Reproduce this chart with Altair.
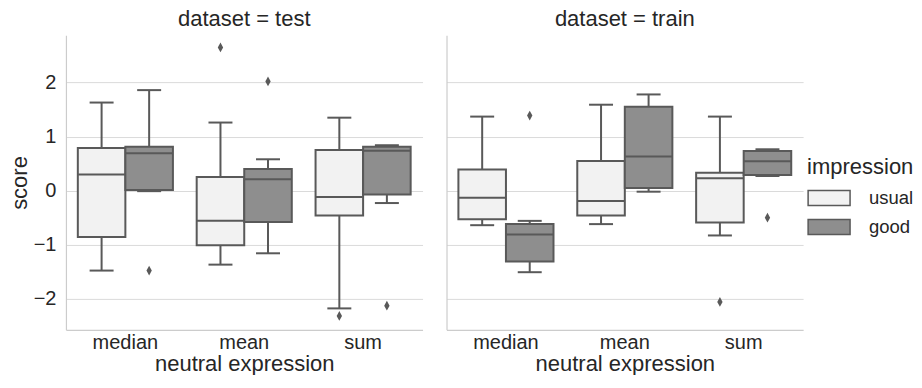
import altair as alt
import pandas as pd

# ---- box statistics ----
datasets = ["test"] * 6 + ["train"] * 6
exprs = ["median", "median", "mean", "mean", "sum", "sum"] * 2
impressions = ["usual", "good"] * 6
whisker_lo = [-1.48, -0.01, -1.37, -1.16, -2.18, -0.23,
              -0.64, -1.51, -0.62, -0.02, -0.83, 0.27]
q1 = [-0.86, 0.01, -1.01, -0.58, -0.46, -0.07,
      -0.53, -1.31, -0.46, 0.05, -0.59, 0.29]
median = [0.30, 0.69, -0.56, 0.21, -0.12, 0.74,
          -0.13, -0.81, -0.19, 0.63, 0.23, 0.545]
q3 = [0.79, 0.81, 0.25, 0.40, 0.75, 0.81,
      0.39, -0.62, 0.55, 1.55, 0.33, 0.735]
whisker_hi = [1.63, 1.86, 1.26, 0.58, 1.35, 0.84,
              1.37, -0.56, 1.59, 1.78, 1.37, 0.765]

# outliers
out_dataset = ["test", "test", "test", "test", "test", "train", "train", "train"]
out_expr = ["median", "mean", "mean", "sum", "sum", "median", "sum", "sum"]
out_imp = ["good", "usual", "good", "usual", "good", "good", "usual", "good"]
out_val = [-1.48, 2.65, 2.02, -2.32, -2.13, 1.39, -2.06, -0.50]

expr_order = ["median", "mean", "sum"]
imp_order = ["usual", "good"]
fill_colors = ["#f2f2f2", "#8e8e8e"]
line_color = "#595959"
text_color = "#262626"
FONT = "Liberation Sans"

stats = pd.DataFrame({
    "dataset": datasets, "expr": exprs, "impression": impressions,
    "lo": whisker_lo, "q1": q1, "med": median, "q3": q3, "hi": whisker_hi,
})
outs = pd.DataFrame({
    "dataset": out_dataset, "expr": out_expr, "impression": out_imp, "val": out_val,
})

Y_DOMAIN = [-2.577, 2.877]
W, H = 357, 295


def panel(name, show_y):
    s = stats[stats.dataset == name]
    o = outs[outs.dataset == name]
    x = alt.X("expr:N", sort=expr_order,
              scale=alt.Scale(paddingInner=0.2, paddingOuter=0.1),
              axis=alt.Axis(title="neutral expression", labelAngle=0, grid=False,
                            ticks=False, labelPadding=3, titlePadding=1))
    xo = alt.XOffset("impression:N", sort=imp_order,
                     scale=alt.Scale(paddingInner=0, paddingOuter=0))
    if show_y:
        yaxis = alt.Axis(title="score", values=[-2, -1, 0, 1, 2], format="d",
                         grid=True, ticks=False, labelPadding=10, titlePadding=2)
    else:
        yaxis = alt.Axis(title=None, values=[-2, -1, 0, 1, 2], grid=True,
                         ticks=False, labels=False)
    yscale = alt.Scale(domain=Y_DOMAIN, nice=False, zero=False)

    base = alt.Chart(s).encode(x=x, xOffset=xo)
    whisk = base.mark_rule(color=line_color, strokeWidth=2, opacity=1).encode(
        y=alt.Y("lo:Q", scale=yscale, axis=yaxis), y2="hi:Q")
    cap_lo = base.mark_tick(color=line_color, size=24, thickness=2, opacity=1).encode(
        y=alt.Y("lo:Q", scale=yscale))
    cap_hi = base.mark_tick(color=line_color, size=24, thickness=2, opacity=1).encode(
        y=alt.Y("hi:Q", scale=yscale))
    box = base.mark_bar(stroke=line_color, strokeWidth=2, opacity=1).encode(
        y=alt.Y("q1:Q", scale=yscale), y2="q3:Q",
        color=alt.Color("impression:N",
                        scale=alt.Scale(domain=imp_order, range=fill_colors),
                        legend=alt.Legend(title="impression")))
    med = base.mark_tick(color=line_color, size=47, thickness=2, opacity=1).encode(
        y=alt.Y("med:Q", scale=yscale))
    pts = alt.Chart(o).mark_point(
        shape="M0,-1L0.55,0L0,1L-0.55,0Z", filled=True, opacity=1,
        color=line_color, size=95).encode(
        x=x, xOffset=xo, y=alt.Y("val:Q", scale=yscale))
    return alt.layer(whisk, cap_lo, cap_hi, box, med, pts).properties(
        width=W, height=H,
        title=alt.Title(f"dataset = {name}", fontSize=22, fontWeight="normal",
                        color=text_color, font=FONT, anchor="middle", offset=4))


chart = alt.hconcat(panel("test", True), panel("train", False), spacing=24).properties(
    padding=0
).configure_view(stroke=None).configure_axis(
    domainColor="#cccccc", domainWidth=1.2, gridColor="#dadada", gridWidth=1,
    labelFont=FONT, labelFontSize=20, labelColor=text_color,
    titleFont=FONT, titleFontSize=22, titleFontWeight="normal", titleColor=text_color,
).configure_legend(
    orient="none", legendX=742, legendY=122, padding=0,
    titleFont=FONT, titleFontSize=22, titleFontWeight="normal", titleColor=text_color,
    labelFont=FONT, labelFontSize=18.5, labelColor=text_color,
    symbolType="M-1.4,-0.5H1.4V0.5H-1.4Z", symbolSize=900, symbolOffset=6,
    symbolStrokeColor=line_color, symbolStrokeWidth=1.5, symbolOpacity=1,
    rowPadding=2, labelOffset=24, titlePadding=3,
)

chart.save("out.html", embed_options={"renderer": "svg", "actions": False})
